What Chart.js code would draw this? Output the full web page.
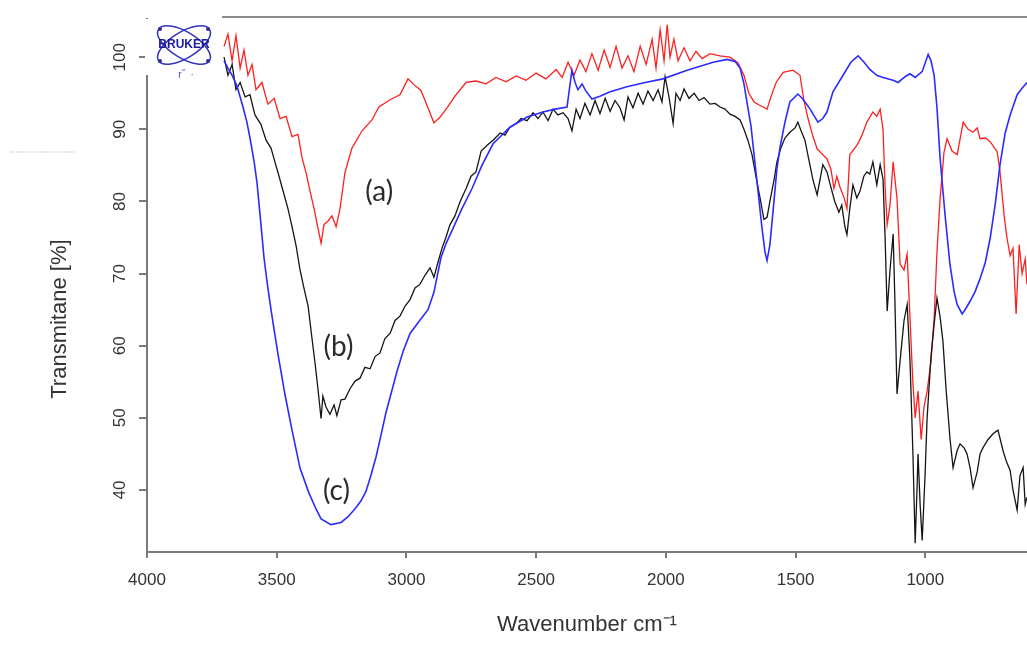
<!DOCTYPE html>
<html lang="en">
<head>
<meta charset="UTF-8">
<title>FTIR spectra</title>
<script src="https://cdn.jsdelivr.net/npm/chart.js"></script>
<style>
  body { margin: 0; padding: 0; background: #fff; }
  #wrap { width: 1027px; height: 650px; }
</style>
</head>
<body>
<div id="wrap"><canvas id="spectra" width="1027" height="650"></canvas></div>
<script>
// (a) red
const aWave = [3703,3688,3672,3657,3641,3626,3611,3595,3580,3557,3534,3510,3487,3464,3441,3418,3402,3387,3372,3356,3345,3329,3318,3302,3287,3271,3256,3237,3210,3171,3133,3106,3063,3025,2994,2971,2944,2917,2894,2870,2843,2813,2770,2732,2693,2655,2616,2577,2539,2500,2462,2423,2400,2377,2354,2331,2308,2285,2261,2238,2215,2192,2169,2146,2123,2099,2076,2053,2038,2022,2007,1995,1984,1969,1953,1930,1907,1884,1860,1830,1791,1753,1722,1699,1680,1660,1637,1610,1595,1575,1548,1510,1483,1468,1452,1433,1417,1398,1379,1364,1352,1341,1329,1313,1302,1291,1263,1244,1225,1202,1187,1174,1163,1155,1147,1136,1124,1109,1097,1082,1070,1059,1048,1039,1028,1016,1005,993,978,966,955,943,928,916,897,877,854,835,816,800,789,769,750,735,723,712,696,685,673,662,650,638,627,615,608];
const aT = [101.5,103.2,99.5,103,98.5,101,97.5,99,95.5,96.5,93.5,94.3,91.5,91.8,89,89.3,86,84,81.5,79,77,74.2,76.8,77.3,78,76.5,79,84,87.4,89.8,91.3,93.1,94.1,94.8,97,96.2,95.4,93,90.9,91.7,93,94.6,96.5,96.7,96.3,97.2,96.6,97.4,96.8,97.8,97,98.3,97.2,99.3,97.5,99.6,98,100.5,98.2,101,98.6,101.5,98.5,100.2,98,101.5,99,102.5,98.5,103.8,99.5,104.5,100,102.5,99.5,101.3,99.5,100.8,99.8,100.5,100.2,100,99.2,97.5,95,93.8,93.3,92.8,94.5,96.5,97.9,98.2,97.5,94,91.5,89,87.3,86.6,85.9,84.5,81.8,83.5,82,80.5,79,86.5,87.8,89.2,91,92.4,91.8,92.8,90,82,76.8,79.5,85.5,80.4,71.3,70.5,72.7,63.8,55,50,53.7,47,51.5,53.7,57.9,63.8,73,80.4,86.8,88.7,87,86.5,91,90,89.6,90.2,88.7,88.8,88.3,87.5,86.9,84.1,78,74.9,72.5,73.5,64.4,74,70,72,68.5];

// (b) black
const bWave = [3703,3688,3672,3657,3641,3622,3603,3584,3561,3541,3522,3507,3491,3472,3456,3441,3426,3410,3395,3379,3364,3352,3341,3329,3322,3310,3295,3279,3268,3252,3237,3218,3198,3179,3160,3140,3121,3102,3083,3063,3044,3025,3005,2986,2967,2948,2928,2909,2894,2879,2863,2848,2832,2813,2793,2770,2751,2732,2712,2689,2666,2639,2620,2601,2577,2558,2535,2512,2493,2474,2454,2435,2416,2396,2377,2362,2346,2331,2312,2292,2273,2254,2234,2215,2196,2177,2161,2146,2127,2107,2088,2069,2049,2030,2015,2003,1988,1972,1961,1945,1930,1911,1891,1872,1853,1830,1810,1791,1772,1753,1733,1714,1699,1684,1668,1653,1637,1622,1610,1599,1583,1572,1556,1541,1522,1502,1491,1479,1464,1449,1433,1417,1406,1395,1379,1364,1349,1333,1322,1310,1302,1291,1279,1264,1252,1237,1225,1214,1202,1187,1174,1163,1155,1147,1136,1124,1117,1109,1097,1082,1070,1059,1048,1039,1032,1028,1020,1012,1001,993,978,966,955,943,932,920,905,893,877,866,850,839,827,816,800,789,777,758,739,720,700,688,673,662,646,635,623,615,608];
const bT = [100,97.5,99,95.5,96.5,94.5,94.8,92,90.7,88.5,87.4,85.5,83.5,81,78.9,76.5,74,70.5,68,65.5,61,57.5,54,49.9,53,51.5,50.5,51.8,50.3,52.5,52.6,54,55.1,55.5,57,56.8,58.5,59,61,61.7,63.5,64.1,65.5,66.4,68,68.5,69.8,70.8,69.5,71.5,73.5,75,76.8,78,80,81.8,83.5,84.1,87,87.8,88.5,89.5,89.2,90.3,90.8,91.5,91.2,92.3,91.5,92.4,91.2,92.8,92,92.3,91.5,89.8,92.8,91.5,93.6,92,94,92.2,94.3,92.5,94,93,91.3,94.5,93,95,93.5,95.3,94,95.5,93.8,97.3,94.5,90.8,95,94,95.6,94.3,95,94,94.4,93.5,93.6,93.1,92.8,92.1,91.8,91.3,90,88.5,86.5,83.5,80.5,77.5,77.8,80,83,85.5,87.5,88.8,89.6,90.2,91,89.8,88.5,85.8,83,80.9,83,85.1,84.1,82,80,78.5,79.5,76.5,75.4,79,82.3,80.5,81.4,83.5,84.1,83.8,85.5,82.3,85.1,83.1,75,64.8,70.5,75.5,66,53.3,58,63.5,65.7,58,45.4,32.6,40,45,38,33,42,50,58.5,63,66.6,64,60.6,54,47.2,43.1,45.5,46.4,45.8,45,43,40.3,42.5,45,45.9,47,47.8,48.3,45.4,44,42.7,40,37.2,42,43.1,38,39];

// (c) blue
const cWave = [3703,3688,3672,3653,3630,3615,3603,3587,3576,3561,3549,3534,3522,3507,3495,3468,3441,3410,3376,3349,3329,3291,3252,3225,3198,3175,3156,3137,3117,3098,3079,3056,3036,3013,2986,2951,2917,2894,2867,2847,2824,2786,2747,2709,2666,2601,2535,2474,2427,2381,2362,2350,2339,2323,2308,2285,2254,2215,2150,2080,2011,1918,1818,1764,1733,1714,1699,1684,1672,1657,1645,1630,1618,1610,1599,1587,1572,1560,1541,1522,1491,1472,1444,1414,1395,1379,1356,1317,1287,1259,1236,1214,1187,1163,1124,1105,1078,1059,1039,1012,989,978,966,955,943,924,905,889,877,858,843,827,808,789,769,750,731,712,692,673,646,627,608];
const cT = [99.5,98.5,97.5,96,93.1,91,88.8,85.5,82.6,76.9,72.2,68,65,61.5,58.8,53.2,48.3,43,39.6,37.4,36,35.2,35.5,36.3,37.4,38.5,39.8,42,44.6,47.6,50.7,53.8,56.5,59.2,61.7,63.4,65,67.4,72.2,74.2,76,79,81.8,85,88,90.3,91.7,92.4,92.8,93.1,98.2,96.5,95.5,96.3,95.3,94.2,94.6,95.2,95.9,96.5,97,98.2,99.3,99.7,99.4,98.5,96.3,93,90.5,85.5,81.5,76.5,73,71.8,74,78.6,84.5,87.5,91,93.8,94.9,94.2,92.8,91,91.5,92.4,95.2,97.5,99.3,100.2,99.3,98.3,97.5,97.2,96.8,96.5,97.3,97.7,97.2,98,100.4,99.5,97.5,93,86,78.2,71.3,67.5,65.7,64.4,65.2,66.2,67.5,69.3,71.5,74.9,79.5,85.1,89.5,92,94.8,95.7,96.5];

const xTicks = [4000, 3500, 3000, 2500, 2000, 1500, 1000];
const yTicks = [40, 50, 60, 70, 80, 90, 100];

// curve labels, placed in data units
const curveNames = ['(a)', '(b)', '(c)'];
const nameWave = [3105, 3262, 3270];
const nameT = [81.3, 59.8, 39.8];

function toPoints(xs, ys) {
    return xs.map((x, i) => ({ x: x, y: ys[i] }));
}

const decor = {
    id: 'decor',
    afterDraw(chart) {
        const c = chart.ctx;
        const sx = chart.scales.x;
        const sy = chart.scales.y;
        const area = chart.chartArea;
        c.save();

        // frame line on top
        c.strokeStyle = '#8c8c8c';
        c.lineWidth = 2;
        c.beginPath();
        c.moveTo(222, area.top - 2);
        c.lineTo(chart.width, area.top - 2);
        c.stroke();

        // faint dashed line at left
        c.strokeStyle = '#cfcfcf';
        c.lineWidth = 1;
        c.setLineDash([2, 1]);
        c.beginPath();
        c.moveTo(10, 152);
        c.lineTo(75, 152);
        c.stroke();
        c.setLineDash([]);

        // logo patch over the axis
        c.fillStyle = '#fff';
        c.fillRect(area.left - 2, area.top, 76, 56);
        const lx = 184, ly = 45;
        c.strokeStyle = '#3434b8';
        c.lineWidth = 1.5;
        [0.55, -0.55].forEach(r => {
            c.beginPath();
            c.ellipse(lx, ly, 30, 13, r, 0, Math.PI * 2);
            c.stroke();
        });
        c.fillStyle = '#2a2aa8';
        [[lx - 24, ly - 16], [lx + 24, ly + 16], [lx - 24, ly + 16], [lx + 24, ly - 16]].forEach(p => {
            c.beginPath();
            c.arc(p[0], p[1], 2, 0, Math.PI * 2);
            c.fill();
        });
        c.fillStyle = '#1c1c9a';
        c.font = 'bold 12px "Liberation Sans", Arial, sans-serif';
        c.textAlign = 'center';
        c.textBaseline = 'middle';
        c.fillText('BRUKER', lx, ly);
        c.fillStyle = '#4a4ae0';
        c.font = '10px "Liberation Sans", Arial, sans-serif';
        c.fillText('r\u02DD  \u00B7', lx + 2, ly + 30);

        // (a) (b) (c)
        c.fillStyle = '#2b2b2b';
        c.font = '28px Lato, "Open Sans", sans-serif';
        curveNames.forEach((n, i) => {
            c.fillText(n, sx.getPixelForValue(nameWave[i]), sy.getPixelForValue(nameT[i]));
        });
        c.restore();
    }
};

const ctx = document.getElementById('spectra').getContext('2d');

new Chart(ctx, {
    type: 'line',
    data: {
        datasets: [
            { label: '(c)', data: toPoints(cWave, cT), borderColor: '#2b2bff', borderWidth: 1.6 },
            { label: '(b)', data: toPoints(bWave, bT), borderColor: '#151515', borderWidth: 1.3 },
            { label: '(a)', data: toPoints(aWave, aT), borderColor: '#ff1f1f', borderWidth: 1.3 }
        ]
    },
    options: {
        responsive: false,
        animation: false,
        elements: { point: { radius: 0 }, line: { tension: 0 } },
        layout: { padding: { top: 19, left: 0, right: 0, bottom: 0 } },
        plugins: { legend: { display: false }, tooltip: { enabled: false } },
        scales: {
            x: {
                type: 'linear',
                reverse: true,
                min: 608,
                max: 4000,
                afterBuildTicks: s => { s.ticks = xTicks.map(v => ({ value: v })); },
                afterFit: s => {
                    s.height = 98;
                    s.paddingLeft = 0; s.paddingRight = 0; s.paddingTop = 0; s.paddingBottom = 0;
                },
                border: { display: true, color: '#7a7a7a', width: 2 },
                grid: { drawOnChartArea: false, color: '#7a7a7a', lineWidth: 2, tickLength: 6 },
                ticks: {
                    padding: 12,
                    color: '#333',
                    font: { family: '"Liberation Sans", Arial, sans-serif', size: 17 },
                    maxRotation: 0,
                    callback: v => String(v)
                },
                title: {
                    display: true,
                    text: 'Wavenumber cm\u207B\u00B9',
                    color: '#333',
                    font: { family: '"Liberation Sans", Arial, sans-serif', size: 22 },
                    padding: { top: 0, bottom: 12 }
                }
            },
            y: {
                min: 31.4,
                max: 105.3,
                afterBuildTicks: s => { s.ticks = yTicks.map(v => ({ value: v })); },
                afterFit: s => {
                    s.width = 147;
                    s.paddingLeft = 0; s.paddingRight = 0; s.paddingTop = 0; s.paddingBottom = 0;
                },
                border: { display: true, color: '#7a7a7a', width: 2 },
                grid: { drawOnChartArea: false, color: '#7a7a7a', lineWidth: 2, tickLength: 8 },
                ticks: {
                    padding: 5,
                    color: '#333',
                    minRotation: 90,
                    maxRotation: 90,
                    crossAlign: 'center',
                    font: { family: '"Liberation Sans", Arial, sans-serif', size: 17 }
                },
                title: {
                    display: true,
                    text: 'Transmitane [%]' + '\u00A0'.repeat(11),
                    color: '#333',
                    font: { family: '"Liberation Sans", Arial, sans-serif', size: 22 },
                    padding: { top: 47, bottom: 0 }
                }
            }
        }
    },
    plugins: [decor]
});
</script>
</body>
</html>
